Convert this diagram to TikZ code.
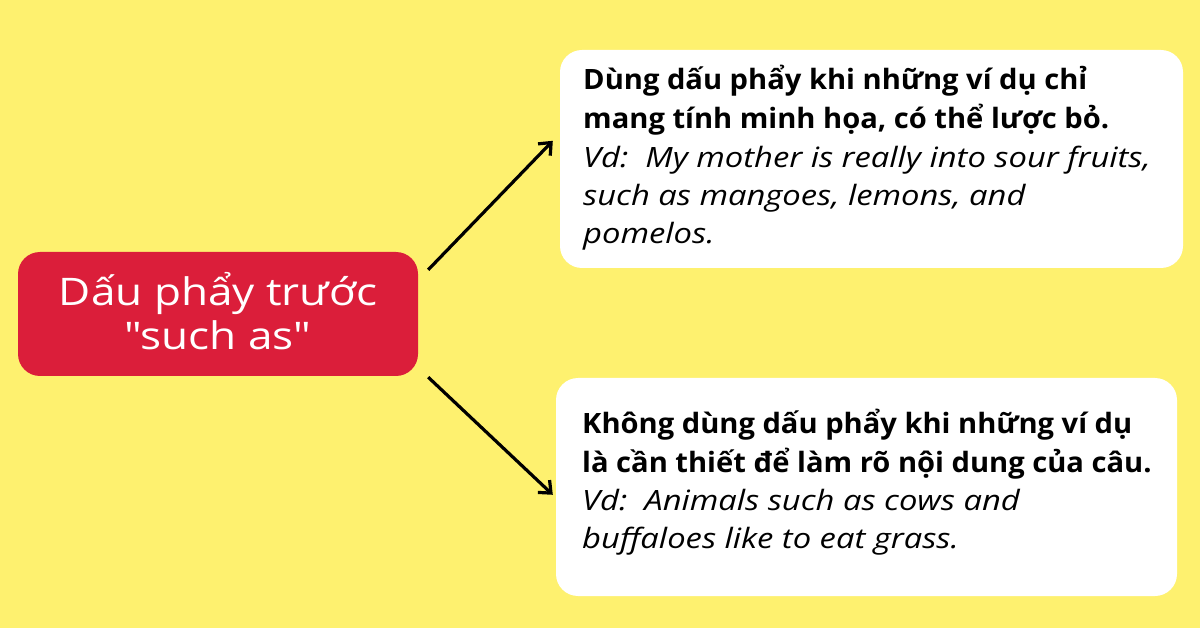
\documentclass[tikz,border=0pt]{standalone}
\usepackage{fontspec}
\setmainfont{Open Sans}
\newfontfamily\bwfont[FakeStretch=1.04]{Open Sans}
\newfontfamily\itwfont[FakeStretch=1.17]{Open Sans}
\newfontfamily\rootfont[FakeStretch=1.16]{Open Sans}
\usetikzlibrary{arrows.meta}
\definecolor{bgyellow}{HTML}{FEF16F}
\definecolor{rootred}{HTML}{DB1E3A}
\tikzset{
  rootbox/.style={fill=rootred, draw=none, rounded corners=22pt, minimum width=400pt, minimum height=124pt, inner sep=0pt},
  roottext/.style={anchor=base, inner sep=0pt, text=white, font=\rootfont\fontsize{38}{44}\selectfont},
  infobox/.style={fill=white, draw=none, rounded corners=22pt, inner sep=0pt},
  boldline/.style={anchor=base west, inner sep=0pt, font=\bwfont\fontsize{28}{34}\selectfont\bfseries},
  itline/.style={anchor=base west, inner sep=0pt, font=\itwfont\fontsize{28}{34}\selectfont\itshape},
  arr/.style={line width=3.2pt, -{Straight Barb[length=10pt, width=17pt, line width=3.2pt]}}
}
\begin{document}
\begin{tikzpicture}[x=1pt,y=-1pt]
\useasboundingbox (0,0) rectangle (1200,628);
\fill[bgyellow] (0,0) rectangle (1200,628);

\node[rootbox] (root) at (218,314) {};
\node[roottext] (r1) at (218,306) {Dấu phẩy trước};
\node[roottext] (r2) at (218,350) {\symbol{34}such as\symbol{34}};

\node[infobox, minimum width=623pt, minimum height=218pt] (top) at (871.5,159) {};
\node[boldline] (t1) at (583,90) {Dùng dấu phẩy khi những ví dụ chỉ};
\node[boldline] (t2) at (583,129) {mang tính minh họa, có thể lược bỏ.};
\node[itline] (t3) at (583,168) {Vd:\ \ My mother is really into sour fruits,};
\node[itline] (t4) at (583,206) {such as mangoes, lemons, and};
\node[itline] (t5) at (583,244) {pomelos.};

\node[infobox, minimum width=621pt, minimum height=218pt] (bot) at (866.5,487) {};
\node[boldline] (b1) at (582,433) {Không dùng dấu phẩy khi những ví dụ};
\node[boldline] (b2) at (582,472) {là cần thiết để làm rõ nội dung của câu.};
\node[itline] (b3) at (582,510) {Vd:\ \ Animals such as cows and};
\node[itline] (b4) at (582,548) {buffaloes like to eat grass.};

\draw[arr] ([shift={(10,18)}]root.north east) -- ([shift={(-7,91)}]top.north west);
\draw[arr] ([shift={(10,1)}]root.south east) -- ([shift={(-3,117)}]bot.north west);
\end{tikzpicture}
\end{document}
